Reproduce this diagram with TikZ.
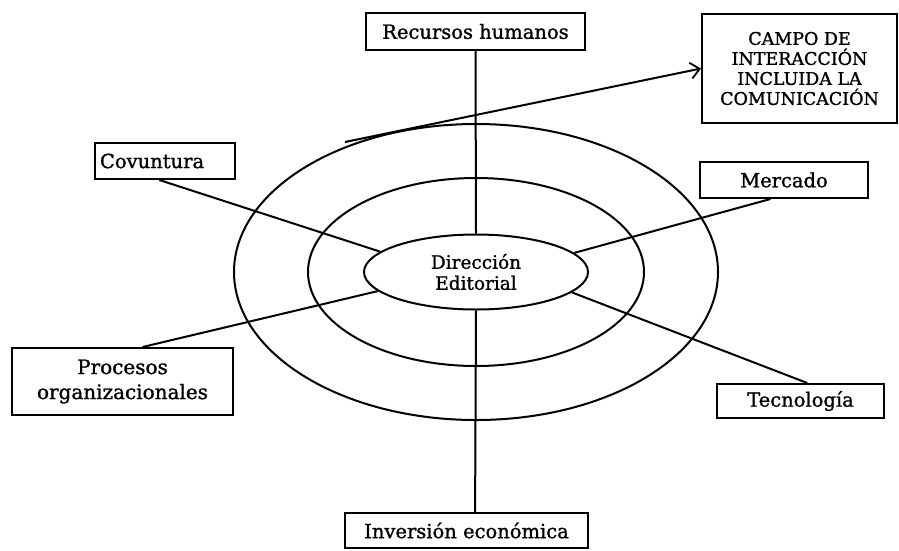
\documentclass[tikz,border=0pt]{standalone}
\usepackage{fontspec}
\setmainfont{DejaVu Serif}[BoldFont=DejaVu Serif,BoldFeatures={FakeBold=1.2}]
\usetikzlibrary{shapes.geometric,arrows.meta,calc}

\begin{document}
\begin{tikzpicture}[x=1pt,y=-1pt,line width=2pt,
  box/.style={draw,rectangle,inner sep=0pt,align=center,
    font=\fontsize{19.5}{24}\selectfont\bfseries},
  core/.style={draw,ellipse,inner sep=0pt,align=center,fill=white,
    font=\fontsize{18.5}{21}\selectfont\bfseries},
  ring/.style={draw,line width=2pt},
  link/.style={line width=2pt},
  flow/.style={line width=2pt,-{Straight Barb[length=9pt,width=16pt,line width=1.8pt]}}]
\useasboundingbox (0,0) rectangle (899,550);

% concentric rings around the centre
\draw[ring] (476,272) ellipse [x radius=242pt, y radius=148pt];
\draw[ring] (476,272) ellipse [x radius=168pt, y radius=94pt];

% centre
\node[core,minimum width=224pt,minimum height=75pt] (dir) at (476,272) {Dirección\\Editorial};

% surrounding factors
\node[box,minimum width=219pt,minimum height=37pt] (rec) at (475.5,31.5) {Recursos humanos};
\node[box,minimum width=195pt,minimum height=109pt,font=\fontsize{17.5}{20}\selectfont\bfseries] (campo) at (799.5,68.5)
  {CAMPO DE\\INTERACCIÓN\\INCLUIDA LA\\COMUNICACIÓN};
\node[box,minimum width=140pt,minimum height=36pt,text width=130pt,align=left] (cov) at (165,161) {Covuntura};
\node[box,minimum width=168pt,minimum height=36pt] (mer) at (784,180) {Mercado};
\node[box,minimum width=221pt,minimum height=67pt,font=\fontsize{20}{25}\selectfont\bfseries] (pro) at (122.5,381.5) {Procesos\\organizacionales};
\node[box,minimum width=167pt,minimum height=34pt] (tec) at (800.5,401) {Tecnología};
\node[box,minimum width=243pt,minimum height=35pt] (inv) at (466.5,530.5) {Inversión económica};

% spokes from each factor to the centre
\draw[link] (rec.south) -- (dir.north);
\draw[link] ($(inv.north west)!0.535!(inv.north east)$) -- (dir.south);
\draw[link] ($(cov.south west)!0.46!(cov.south east)$) -- (dir.168.8);
\draw[link] ($(mer.south west)!0.42!(mer.south east)$) -- (dir.11.2);
\draw[link] ($(pro.north west)!0.59!(pro.north east)$) -- (dir.191.8);
\draw[link] ($(tec.north west)!0.54!(tec.north east)$) -- (dir.348.2);

% interaction arrow
\coordinate (astart) at (345,142);
\draw[flow] (astart) -- (campo.west);
\end{tikzpicture}
\end{document}
